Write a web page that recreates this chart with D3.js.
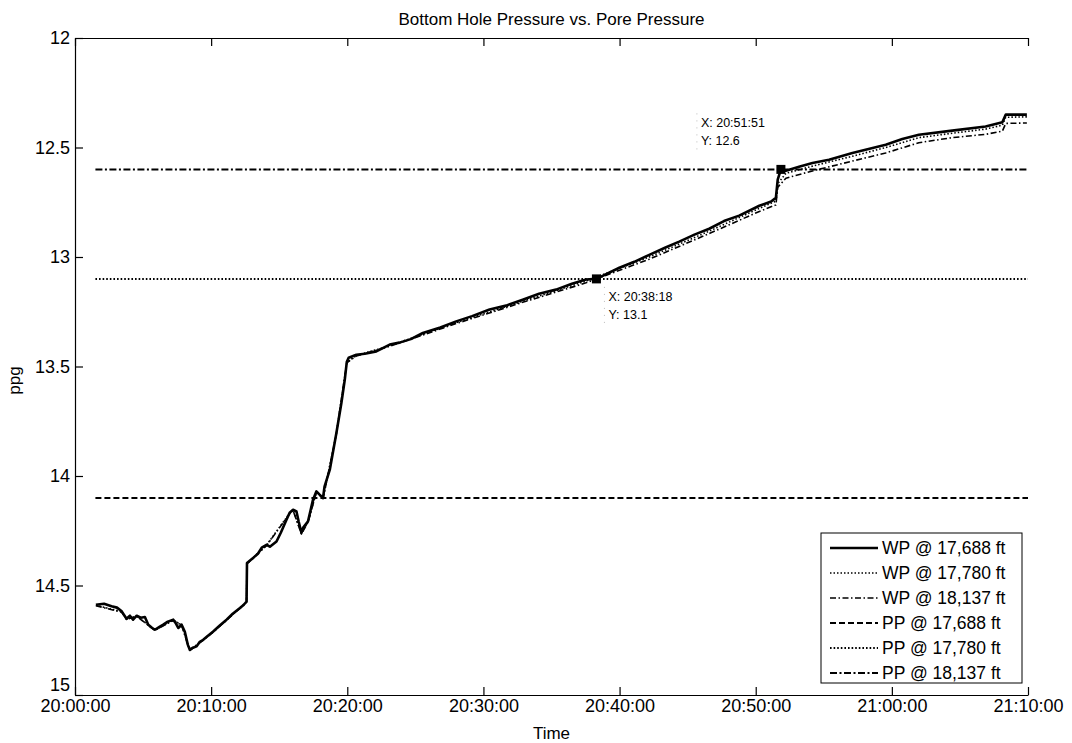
<!DOCTYPE html>
<html>
<head>
<meta charset="utf-8">
<script src="https://cdn.jsdelivr.net/npm/d3@7"></script>
<style>
  html, body { margin: 0; padding: 0; background: #fff; }
  svg { display: block; font-family: "Liberation Sans", Arial, sans-serif; }
</style>
</head>
<body>
<svg id="chart" width="1072" height="743"></svg>
<script>
// ---------------- DATA ----------------
const chartTitle = "Bottom Hole Pressure vs. Pore Pressure";
const xLabel = "Time";
const yLabel = "ppg";
const xTickLabels = ["20:00:00","20:10:00","20:20:00","20:30:00","20:40:00","20:50:00","21:00:00","21:10:00"];
const yTickValues = [12, 12.5, 13, 13.5, 14, 14.5, 15];

// WP @ 17,688 ft (solid)
const wp1Times = ["20:01:32","20:02:08","20:02:41","20:03:05","20:03:26","20:03:47","20:04:02","20:04:16","20:04:32","20:04:50",
  "20:05:08","20:05:23","20:05:39","20:05:52","20:06:14","20:06:29","20:06:49","20:07:13","20:07:25","20:07:35",
  "20:07:50","20:08:04","20:08:17","20:08:26","20:08:40","20:08:56","20:09:10","20:09:25","20:09:46","20:10:09",
  "20:10:38","20:11:08","20:11:35","20:12:07","20:12:24","20:12:36","20:12:38","20:12:50","20:13:05","20:13:26",
  "20:13:43","20:14:04","20:14:19","20:14:48","20:15:07","20:15:32","20:15:46","20:16:01","20:16:16","20:16:26",
  "20:16:38","20:16:45","20:17:07","20:17:29","20:17:44","20:17:58","20:18:13","20:18:20","20:18:43","20:19:12",
  "20:19:34","20:19:49","20:19:58","20:20:06","20:20:40","20:21:17","20:22:08","20:23:07","20:23:50","20:24:40",
  "20:25:33","20:26:50","20:28:00","20:29:10","20:30:27","20:31:40","20:32:53","20:34:05","20:35:20","20:36:30",
  "20:37:32","20:38:18","20:39:59","20:41:05","20:42:11","20:43:20","20:44:23","20:45:30","20:46:35","20:47:40",
  "20:48:47","20:50:16","20:51:08","20:51:29","20:51:37","20:51:51","20:52:13","20:53:11","20:54:10","20:55:23",
  "20:57:06","20:59:33","21:00:46","21:01:59","21:04:26","21:06:53","21:08:07","21:08:22","21:09:55"];
const wp1Values = [14.588,14.583,14.595,14.601,14.618,14.652,14.638,14.656,14.638,14.647,
  14.644,14.679,14.693,14.702,14.688,14.679,14.665,14.656,14.674,14.694,
  14.679,14.711,14.770,14.793,14.784,14.778,14.757,14.748,14.729,14.710,
  14.683,14.656,14.629,14.603,14.588,14.573,14.397,14.387,14.374,14.355,
  14.327,14.314,14.323,14.299,14.259,14.200,14.168,14.154,14.162,14.209,
  14.260,14.237,14.207,14.108,14.070,14.085,14.100,14.047,13.971,13.804,
  13.667,13.560,13.478,13.460,13.446,13.442,13.431,13.400,13.391,13.375,
  13.347,13.322,13.294,13.270,13.240,13.222,13.195,13.168,13.149,13.122,
  13.103,13.100,13.049,13.022,12.990,12.958,12.930,12.898,12.871,12.836,
  12.811,12.766,12.747,12.729,12.647,12.600,12.606,12.588,12.571,12.556,
  12.525,12.487,12.461,12.442,12.423,12.404,12.385,12.350,12.350];

// WP @ 17,780 ft (dotted)
const wp2Times = ["20:01:32","20:03:26","20:03:47","20:04:32","20:05:52","20:07:13","20:07:50","20:08:26","20:10:09","20:12:36",
  "20:12:38","20:14:04","20:15:46","20:16:01","20:16:38","20:17:07","20:17:44","20:18:13","20:19:12","20:19:58",
  "20:20:40","20:23:07","20:28:00","20:32:53","20:37:32","20:42:11","20:46:35","20:50:16","20:51:29","20:51:37",
  "20:52:13","20:54:10","20:57:06","20:59:33","21:01:59","21:04:26","21:06:53","21:08:07","21:08:22","21:09:55"];
const wp2Values = [14.590,14.620,14.654,14.640,14.704,14.658,14.680,14.795,14.712,14.575,
  14.399,14.316,14.170,14.156,14.262,14.209,14.072,14.102,13.806,13.481,
  13.450,13.405,13.300,13.202,13.110,13.000,12.882,12.778,12.745,12.665,
  12.618,12.585,12.540,12.500,12.455,12.435,12.416,12.398,12.362,12.360];

// WP @ 18,137 ft (dash-dot)
const wp3Times = wp2Times;
const wp3Values = [14.592,14.622,14.655,14.641,14.705,14.659,14.682,14.797,14.713,14.577,
  14.401,14.318,14.172,14.158,14.265,14.211,14.074,14.104,13.808,13.483,
  13.452,13.408,13.304,13.207,13.118,13.010,12.893,12.792,12.762,12.682,
  12.640,12.607,12.562,12.525,12.478,12.455,12.440,12.425,12.390,12.388];

// Pore pressure (horizontal)
const ppTimes = ["20:01:30","21:10:00"];
const ppValues = [14.1, 13.1, 12.6];   // @17,688 / 17,780 / 18,137

const seriesNames = ["WP @ 17,688 ft","WP @ 17,780 ft","WP @ 18,137 ft","PP @ 17,688 ft","PP @ 17,780 ft","PP @ 18,137 ft"];

// data tips
const tipTimes = ["20:51:51","20:38:18"];
const tipValues = [12.6, 13.1];

// ---------------- CHART ----------------
const parse = d3.timeParse("%H:%M:%S");
const svg = d3.select("#chart");
const L = 75, R = 1028, T = 38, B = 695;

const x = d3.scaleTime().domain([parse("20:00:00"), parse("21:10:00")]).range([L, R]);
const y = d3.scaleLinear().domain([12, 15]).range([T, B]);

const styles = [
  {w: 2.6, dash: null},
  {w: 1.6, dash: "1.5,2"},
  {w: 1.6, dash: "6,2.5,1.5,2.5"},
  {w: 2.0, dash: "6,3"},
  {w: 2.0, dash: "1.6,2"},
  {w: 2.0, dash: "7,2.5,2,2.5"}
];

const line = d3.line().x(d => x(d.t)).y(d => y(d.v));
function mk(times, vals) { return times.map((s, i) => ({t: parse(s), v: vals[i]})); }

const series = [
  mk(wp3Times, wp3Values),
  mk(wp2Times, wp2Values),
  mk(wp1Times, wp1Values)
];
const sIdx = [2, 1, 0];

// PP lines
ppValues.forEach((v, i) => {
  svg.append("path")
    .datum(ppTimes.map(s => ({t: parse(s), v: v})))
    .attr("d", line)
    .attr("fill", "none").attr("stroke", "#000")
    .attr("stroke-width", styles[3 + i].w)
    .attr("stroke-dasharray", styles[3 + i].dash);
});

series.forEach((d, k) => {
  const st = styles[sIdx[k]];
  svg.append("path").datum(d).attr("d", line)
    .attr("fill", "none").attr("stroke", "#000")
    .attr("stroke-width", st.w)
    .attr("stroke-linejoin", "round")
    .attr("stroke-dasharray", st.dash);
});

// axes box
const tickFmt = d3.timeFormat("%H:%M:%S");
const xTicks = xTickLabels.map(parse);
const xb = d3.axisBottom(x).tickValues(xTicks).tickFormat(tickFmt).tickSizeInner(-8).tickSizeOuter(0).tickPadding(4);
const xt = d3.axisTop(x).tickValues(xTicks).tickFormat("").tickSizeInner(-8).tickSizeOuter(0);
const yl = d3.axisLeft(y).tickValues(yTickValues).tickFormat(d3.format("")).tickSizeInner(-8).tickSizeOuter(0).tickPadding(5);
const yr = d3.axisRight(y).tickValues(yTickValues).tickFormat("").tickSizeInner(-8).tickSizeOuter(0);

function styleAxis(g) {
  g.select(".domain").attr("stroke", "#000").attr("stroke-width", 1.2);
  g.selectAll(".tick line").attr("stroke", "#000").attr("stroke-width", 1.2);
  g.selectAll(".tick text").attr("fill", "#000").style("font-size", "18px")
    .style("font-family", "'Liberation Sans', Arial, sans-serif");
}
svg.append("g").attr("transform", `translate(0,${B})`).call(xb).call(styleAxis);
svg.append("g").attr("transform", `translate(0,${T})`).call(xt).call(styleAxis);
const ylg = svg.append("g").attr("transform", `translate(${L},0)`).call(yl).call(styleAxis);
// the bottom "15" label sits just above the time labels, as in the original
ylg.selectAll(".tick text").filter(d => d === 15).attr("dy", "-0.25em");

// labels
svg.append("text").attr("x", (L + R) / 2).attr("y", 25).attr("text-anchor", "middle")
  .style("font-size", "17px").text(chartTitle);
svg.append("text").attr("x", (L + R) / 2).attr("y", 739).attr("text-anchor", "middle")
  .style("font-size", "17px").text(xLabel);
svg.append("text").attr("transform", `translate(20,${(T + B) / 2 + 14}) rotate(-90)`).attr("text-anchor", "middle")
  .style("font-size", "17px").text(yLabel);

// data tips
const tipOffsets = [{dx: -80, dy: -42}, {dx: 12, dy: 22}];
tipTimes.forEach((s, i) => {
  const px = x(parse(s)), py = y(tipValues[i]);
  svg.append("rect").attr("x", px - 4.5).attr("y", py - 4.5).attr("width", 9).attr("height", 9).attr("fill", "#000");
  const o = tipOffsets[i];
  svg.append("line").attr("x1", px + o.dx - 4).attr("x2", px + o.dx - 4)
    .attr("y1", py + o.dy - 14).attr("y2", py + o.dy + 26)
    .attr("stroke", "#bbb").attr("stroke-width", 1).attr("stroke-dasharray", "1,6");
  svg.append("text").attr("x", px + o.dx).attr("y", py + o.dy).style("font-size", "12.5px")
    .text("X: " + s);
  svg.append("text").attr("x", px + o.dx).attr("y", py + o.dy + 18).style("font-size", "12.5px")
    .text("Y: " + tipValues[i]);
});

// legend
const lg = svg.append("g");
lg.append("rect").attr("x", 821).attr("y", 533).attr("width", 201).attr("height", 150)
  .attr("fill", "#fff").attr("stroke", "#000").attr("stroke-width", 1);
seriesNames.forEach((n, i) => {
  const yy = 548 + i * 25;
  lg.append("line").attr("x1", 830).attr("x2", 878).attr("y1", yy).attr("y2", yy)
    .attr("stroke", "#000").attr("stroke-width", styles[i].w).attr("stroke-dasharray", styles[i].dash);
  lg.append("text").attr("x", 882).attr("y", yy + 6).style("font-size", "17.5px").text(n);
});
</script>
</body>
</html>
